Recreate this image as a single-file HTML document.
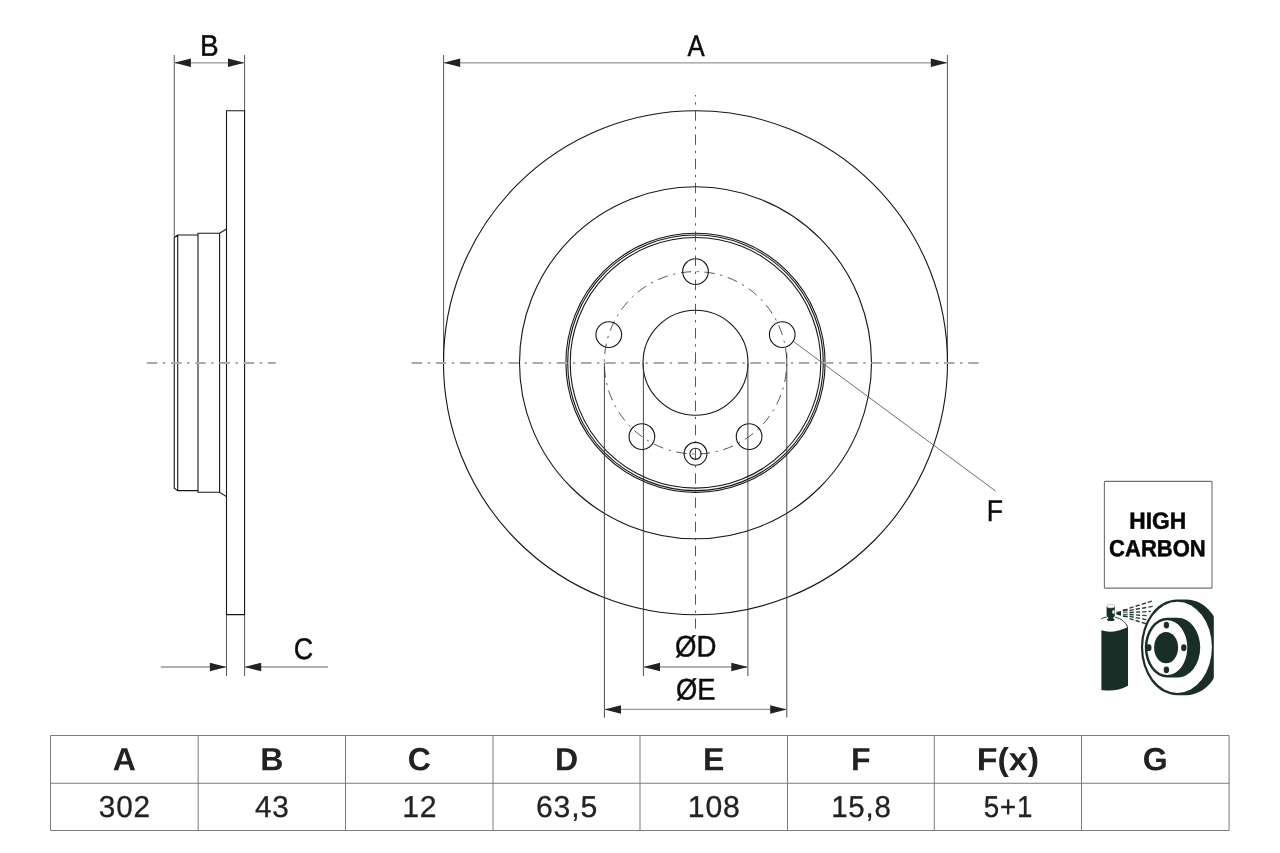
<!DOCTYPE html>
<html lang="en">
<head>
<meta charset="utf-8">
<title>Brake disc dimensions</title>
<style>
html,body{margin:0;padding:0;background:#fff;}
body{width:1280px;height:853px;overflow:hidden;position:relative;font-family:"Liberation Sans",sans-serif;}
svg{position:absolute;left:0;top:0;display:block;will-change:transform;}
text{font-family:"Liberation Sans",sans-serif;text-anchor:middle;}
.ln{stroke:#161616;stroke-width:1.1;fill:none;}
.ext{stroke:#444;stroke-width:0.9;fill:none;}
.ext2{stroke:#333;stroke-width:0.9;fill:none;}
.lead{stroke:#4a4a4a;stroke-width:0.8;fill:none;}
.dim{stroke:#999;stroke-width:1.4;fill:none;}
.cl{stroke:#444;stroke-width:0.9;fill:none;stroke-dasharray:10.4 5.8 2.3 5.7;stroke-dashoffset:8.9;}
.pcd{stroke:#444;stroke-width:0.9;fill:none;stroke-dasharray:6.5 3.55 1.45 3.5;stroke-dashoffset:9.3;}
.hcl{stroke:#aaa;stroke-width:2;fill:none;stroke-dasharray:10.5 5.6 2.4 5.7;}
.ar{fill:#222;stroke:none;}
.lbl{font-size:29.7px;fill:#0c0c0c;stroke:#0c0c0c;stroke-width:0.45px;}
.hc{font-weight:bold;font-size:23.4px;fill:#050505;stroke:#050505;stroke-width:0.5px;}
.th{font-weight:bold;font-size:32.1px;fill:#222;}
.td{font-size:30.2px;fill:#222;letter-spacing:0.8px;stroke:#222;stroke-width:0.3px;}
.ic{fill:#1a2e28;}
</style>
</head>
<body>
<svg width="1280" height="853" viewBox="0 0 1280 853">
<g id="side">
<path class="ext" d="M174.25 55 V237.5 M244.6 55 V110.8 M226.5 614.6 V676 M244.6 614.6 V676"/>
<path class="dim" d="M174.25 62.9 H244.6"/>
<path class="ar" d="M174.25 62.80 L190.85 58.55 L190.85 67.05 Z"/>
<path class="ar" d="M244.60 62.80 L228.00 58.55 L228.00 67.05 Z"/>
<text class="lbl" transform="translate(209.40 55.65) rotate(0.03) scale(0.943 1)">B</text>
<path class="dim" d="M160.8 667 H226.5 M244.6 667 H328"/>
<path class="ar" d="M226.50 667.00 L209.90 662.75 L209.90 671.25 Z"/>
<path class="ar" d="M244.60 667.00 L261.20 662.75 L261.20 671.25 Z"/>
<text class="lbl" transform="translate(303.40 658.90) rotate(0.03) scale(0.905 1)">C</text>
<path class="ln" d="M226.5 110.8 H244.6 V614.6 H226.5 Z"/>
<path class="ln" d="M174.25 237.5 L177.7 235 H198 V233.3 H219.6 L226.5 229 M174.25 237.5 V488.10 L177.7 490.60 H198 V492.30 H219.6 L226.5 496.60 M177.7 235 V490.60 M198 233.3 V492.30 M219.6 233.3 V492.30"/>
<path class="hcl" d="M146.8 363 H275.7"/>
</g>
<g id="front">
<path class="ext" d="M443.6 55 V363 M947.4 55 V363"/>
<path class="dim" d="M443.6 62.9 H947.4"/>
<path class="ar" d="M443.60 62.80 L460.20 58.55 L460.20 67.05 Z"/>
<path class="ar" d="M947.40 62.80 L930.80 58.55 L930.80 67.05 Z"/>
<text class="lbl" transform="translate(696.20 55.60) rotate(0.03) scale(0.868 1)">A</text>
<circle class="ln" cx="695.5" cy="362.8" r="252"/>
<circle class="ln" cx="695.5" cy="362.8" r="176"/>
<circle class="ln" cx="695.5" cy="362.8" r="129.6"/>
<circle class="ln" cx="695.5" cy="362.8" r="127.8"/>
<circle class="ln" cx="695.5" cy="362.8" r="125.3"/>
<circle class="ln" cx="695.5" cy="362.8" r="52.5"/>
<circle class="pcd" cx="695.5" cy="362.8" r="91.2" pathLength="360"/>
<circle class="ln" cx="695.50" cy="271.60" r="12.85"/>
<circle class="ln" cx="608.76" cy="334.62" r="12.85"/>
<circle class="ln" cx="641.89" cy="436.58" r="12.85"/>
<circle class="ln" cx="749.11" cy="436.58" r="12.85"/>
<circle class="ln" cx="782.24" cy="334.62" r="12.85"/>
<circle class="ln" cx="695.5" cy="453.80" r="11.4"/>
<circle class="ln" cx="695.5" cy="453.80" r="5.6"/>
<path class="hcl" d="M411.6 363 H978.8"/>
<path class="cl" d="M695.5 95 V628.6"/>
<path class="ext2" d="M643.4 363 V676 M747.9 363 V676 M604.4 363 V717.6 M786.8 352.8 V717.6"/>
<path class="dim" d="M643.4 667 H747.9 M604.4 709.4 H786.8"/>
<path class="ar" d="M643.40 667.00 L660.00 662.75 L660.00 671.25 Z"/>
<path class="ar" d="M747.90 667.00 L731.30 662.75 L731.30 671.25 Z"/>
<path class="ar" d="M604.40 709.40 L621.00 705.15 L621.00 713.65 Z"/>
<path class="ar" d="M786.80 709.40 L770.20 705.15 L770.20 713.65 Z"/>
<text class="lbl" transform="translate(695.60 656.60) rotate(0.03) scale(0.929 1)">ØD</text>
<text class="lbl" transform="translate(695.80 699.50) rotate(0.03) scale(0.919 1)">ØE</text>
<path class="lead" d="M794 341.9 L995.8 491.2"/>
<text class="lbl" transform="translate(994.90 521.00) rotate(0.03) scale(0.896 1)">F</text>
</g>
<g id="badge">
<rect x="1104.4" y="481.4" width="107.6" height="106.7" rx="0.8" fill="#fff" stroke="#707070" stroke-width="1.1"/>
<text class="hc" transform="translate(1157.70 528.70) rotate(0.03) scale(0.972 1)">HIGH</text>
<text class="hc" transform="translate(1157.40 556.30) rotate(0.03) scale(0.941 1)">CARBON</text>
<path d="M1129.5 608.14 L1152.6 600.91 M1129.5 610.41 L1153.2 606.26 M1129.5 612.47 L1151 611.40 M1129.5 614.45 L1147.8 615.74 M1129.5 616.43 L1153 620.90 M1129.5 618.55 L1153 626.02" stroke="#1a2e28" stroke-width="1.4" fill="none" stroke-dasharray="4.3 2.1" opacity="0.92"/>
<path class="ic" d="M1116.4 611.9 L1121 611.0 V615.8 L1116.4 614.4 Z"/>
<path d="M1122.9 610.4 L1127.7 609.7 M1122.9 616.0 L1127.7 616.6" stroke="#1a2e28" stroke-width="1.7" fill="none"/>
<path d="M1122.9 612.2 H1127.7 M1122.9 614.3 H1127.7" stroke="#1a2e28" stroke-width="1.3" fill="none" opacity="0.75"/>
<path class="ic" d="M1101.4 630.3 Q1113 634.2 1128 627 V685.7 Q1116 692.3 1101.4 689.9 Z"/>
<path d="M1101.2 618.8 Q1104 617.4 1106.8 617.1 M1114.8 617.1 Q1124.5 619 1127.8 627.4" stroke="#1a2e28" stroke-width="0.9" fill="none"/>
<ellipse class="ic" cx="1110.8" cy="619.8" rx="3.85" ry="1.3"/>
<path class="ic" d="M1106.6 606.5 H1114.8 V615.6 Q1114.6 617.2 1113.3 617.6 V619.5 H1108.2 V617.6 Q1106.8 617.2 1106.6 615.6 Z"/>
<ellipse cx="1110.75" cy="606.2" rx="3.9" ry="1.8" fill="#fff" stroke="#9aa39f" stroke-width="0.6"/>
<ellipse cx="1113.45" cy="611.9" rx="1.2" ry="1.9" fill="#fff"/>
<clipPath id="dc"><rect x="1130" y="590" width="83.8" height="115"/></clipPath>
<path class="ic" clip-path="url(#dc)" d="M1177.2 599.4 H1186.2 A36.3 47.9 0 0 1 1186.2 695.2 H1177.2 A36.3 47.9 0 0 1 1177.2 599.4 Z"/>
<ellipse cx="1177.5" cy="647.3" rx="34.4" ry="45.6" fill="#fff"/>
<path class="ic" d="M1167.3 617.8 H1177.7 A22.5 29.8 0 0 1 1177.7 677.4 H1167.3 A22.5 29.8 0 0 1 1167.3 617.8 Z"/>
<ellipse cx="1167.3" cy="647.6" rx="20" ry="27.4" fill="#fff"/>
<ellipse class="ic" cx="1166.1" cy="647.6" rx="12" ry="15.7"/>
<ellipse class="ic" cx="1166.4" cy="625.1" rx="2.7" ry="3.4"/>
<ellipse class="ic" cx="1166.4" cy="669.8" rx="2.7" ry="3.4"/>
<ellipse class="ic" cx="1148.8" cy="647.7" rx="2.7" ry="3.4"/>
<ellipse class="ic" cx="1183.8" cy="647.7" rx="2.7" ry="3.4"/>
</g>
<g id="table">
<path d="M50.5 735.5 H1229.1 M50.5 783.25 H1229.1 M50.5 830.5 H1229.1 M50.50 735.5 V830.5 M198.20 735.5 V830.5 M345.50 735.5 V830.5 M493.00 735.5 V830.5 M640.00 735.5 V830.5 M787.50 735.5 V830.5 M934.30 735.5 V830.5 M1081.50 735.5 V830.5 M1229.10 735.5 V830.5" stroke="#7c7c7c" stroke-width="1" fill="none"/>
<text class="th" transform="translate(124.35 770.30) rotate(0.03) scale(1.0 1)">A</text>
<text class="td" transform="translate(124.85 817.00) rotate(0.03) scale(0.985 1)">302</text>
<text class="th" transform="translate(271.85 770.30) rotate(0.03) scale(1.0 1)">B</text>
<text class="td" transform="translate(272.35 817.00) rotate(0.03) scale(0.985 1)">43</text>
<text class="th" transform="translate(419.25 770.30) rotate(0.03) scale(1.0 1)">C</text>
<text class="td" transform="translate(419.75 817.00) rotate(0.03) scale(1.0 1)">12</text>
<text class="th" transform="translate(566.50 770.30) rotate(0.03) scale(1.0 1)">D</text>
<text class="td" transform="translate(567.00 817.00) rotate(0.03) scale(1.0 1)">63,5</text>
<text class="th" transform="translate(713.75 770.30) rotate(0.03) scale(1.0 1)">E</text>
<text class="td" transform="translate(714.25 817.00) rotate(0.03) scale(1.0 1)">108</text>
<text class="th" transform="translate(860.90 770.30) rotate(0.03) scale(1.0 1)">F</text>
<text class="td" transform="translate(861.40 817.00) rotate(0.03) scale(0.975 1)">15,8</text>
<text class="th" transform="translate(1007.90 770.30) rotate(0.03) scale(1.06 1)">F(x)</text>
<text class="td" transform="translate(1008.40 817.00) rotate(0.03) scale(0.92 1)">5+1</text>
<text class="th" transform="translate(1155.30 770.30) rotate(0.03) scale(1.0 1)">G</text>
</g>
</svg>
</body>
</html>
